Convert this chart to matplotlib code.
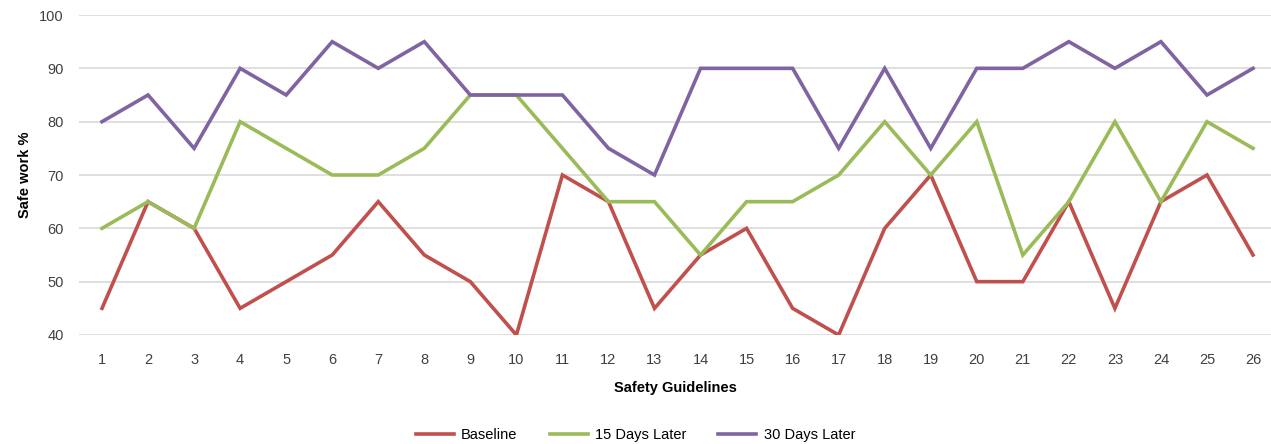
import matplotlib
matplotlib.use("Agg")
import matplotlib.pyplot as plt

plt.rcParams['font.family'] = ['Liberation Sans', 'DejaVu Sans']

guidelines = list(range(1, 27))
baseline = [45, 65, 60, 45, 50, 55, 65, 55, 50, 40, 70, 65, 45, 55, 60, 45, 40, 60, 70, 50, 50, 65, 45, 65, 70, 55]
days_15 = [60, 65, 60, 80, 75, 70, 70, 75, 85, 85, 75, 65, 65, 55, 65, 65, 70, 80, 70, 80, 55, 65, 80, 65, 80, 75]
days_30 = [80, 85, 75, 90, 85, 95, 90, 95, 85, 85, 85, 75, 70, 90, 90, 90, 75, 90, 75, 90, 90, 95, 90, 95, 85, 90]
series_names = ["Baseline", "15 Days Later", "30 Days Later"]
colors = ["#C0504D", "#9BBB59", "#8064A2"]

fig = plt.figure(figsize=(12.71, 4.44), dpi=100)
ax = fig.add_axes([79 / 1271, 1 - 335 / 444, 1 - 79 / 1271, 320 / 444])

for vals, name, c in zip([baseline, days_15, days_30], series_names, colors):
    ax.plot(guidelines, vals, color=c, lw=2.6, label=name, solid_joinstyle='miter', zorder=3)

ax.set_ylim(40, 100)
ax.set_yticks(range(40, 101, 10))
ax.set_xlim(0.5, 0.5 + 1192 / 46.04)
ax.set_xticks(guidelines)
ax.grid(axis='y', color='#D9D9D9', lw=1.2)
ax.set_axisbelow(True)
for s in ax.spines.values():
    s.set_visible(False)
ax.tick_params(length=0, labelsize=10.5, colors='#404040', pad=13)
ax.tick_params(axis='y', pad=11)

ax.set_ylabel("Safe work %", fontsize=10.5, fontweight='bold', labelpad=5)
ax.set_xlabel("Safety Guidelines", fontsize=10.5, fontweight='bold', labelpad=10)

fig.legend(loc='center', bbox_to_anchor=(0.5, 9 / 444), ncol=3, frameon=False,
           fontsize=10.5, handlelength=2.6, columnspacing=2.2, handletextpad=0.5)

fig.savefig("out.png", dpi=100)
